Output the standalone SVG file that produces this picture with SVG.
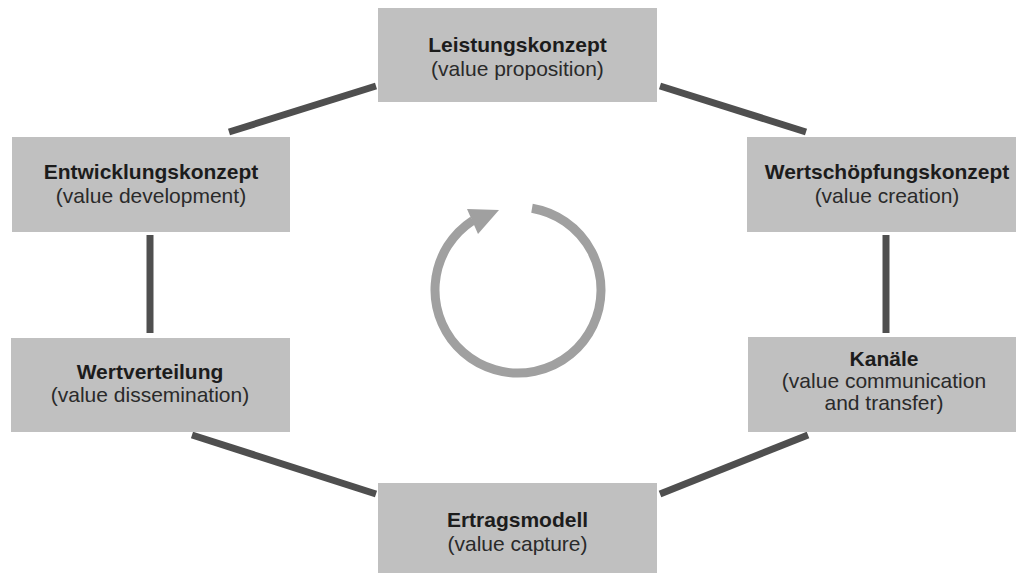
<svg xmlns="http://www.w3.org/2000/svg" width="1016" height="573" viewBox="0 0 1016 573">
  <style>
    .box { fill: #c0c0c0; }
    .title { font-family: "Liberation Sans", Arial, sans-serif; font-size: 21px; font-weight: bold; fill: #1c1c1c; text-anchor: middle; }
    .sub { font-family: "Liberation Sans", Arial, sans-serif; font-size: 21px; fill: #2a2a2a; text-anchor: middle; }
    .link { stroke: #4f4f4f; stroke-width: 7; fill: none; }
    .cycle { stroke: #a0a0a0; stroke-width: 9; fill: none; }
  </style>
  <rect width="1016" height="573" fill="#ffffff"/>

  <!-- connectors between the six concept boxes -->
  <g id="connectors">
    <line class="link" x1="229" y1="132" x2="376" y2="86"/>
    <line class="link" x1="660" y1="86" x2="806" y2="132"/>
    <line class="link" x1="150" y1="235" x2="150" y2="333"/>
    <line class="link" x1="886" y1="235" x2="886" y2="333"/>
    <line class="link" x1="192" y1="435" x2="376" y2="494"/>
    <line class="link" x1="660" y1="494" x2="808" y2="435"/>
  </g>

  <!-- central cycle arrow -->
  <g id="cycle">
    <path class="cycle" d="M 472.8 220.4 A 83 83 0 1 0 532 208.2"/>
    <polygon points="467,209 499,210 478,234" fill="#a0a0a0"/>
  </g>

  <g id="leistungskonzept">
    <rect class="box" x="378" y="8" width="279" height="94"/>
    <text class="title" x="517.5" y="52">Leistungskonzept</text>
    <text class="sub" x="517.5" y="76">(value proposition)</text>
  </g>

  <g id="entwicklungskonzept">
    <rect class="box" x="12" y="137" width="278" height="95"/>
    <text class="title" x="151" y="179">Entwicklungskonzept</text>
    <text class="sub" x="151" y="203">(value development)</text>
  </g>

  <g id="wertschoepfungskonzept">
    <rect class="box" x="747" y="137" width="279" height="95"/>
    <text class="title" x="887" y="179">Wertschöpfungskonzept</text>
    <text class="sub" x="887" y="203">(value creation)</text>
  </g>

  <g id="wertverteilung">
    <rect class="box" x="11" y="338" width="279" height="94"/>
    <text class="title" x="150" y="379">Wertverteilung</text>
    <text class="sub" x="150" y="402">(value dissemination)</text>
  </g>

  <g id="kanaele">
    <rect class="box" x="748" y="337" width="279" height="95"/>
    <text class="title" x="884" y="366">Kanäle</text>
    <text class="sub" x="884" y="388">(value communication</text>
    <text class="sub" x="884" y="410">and transfer)</text>
  </g>

  <g id="ertragsmodell">
    <rect class="box" x="378" y="483" width="279" height="95"/>
    <text class="title" x="517.5" y="527">Ertragsmodell</text>
    <text class="sub" x="517.5" y="551">(value capture)</text>
  </g>
</svg>
